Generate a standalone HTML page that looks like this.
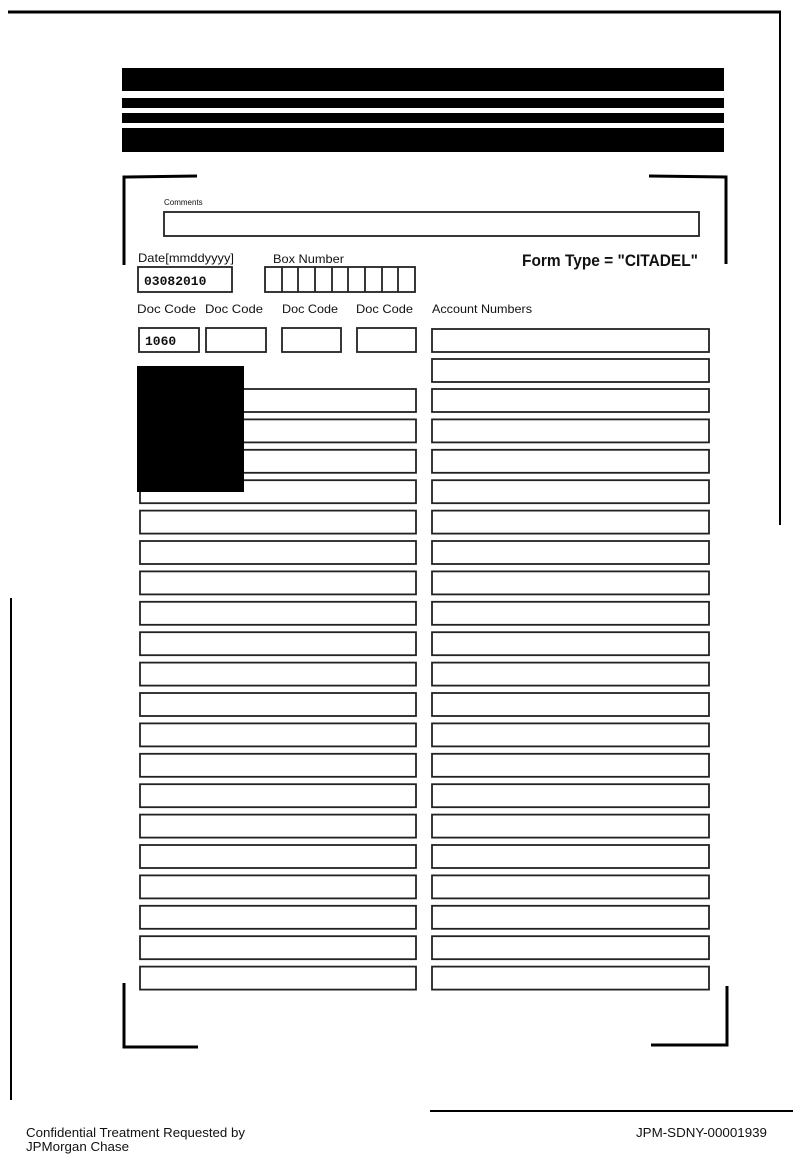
<!DOCTYPE html>
<html><head><meta charset="utf-8"><style>
html,body{margin:0;padding:0;background:#fff;}
svg{display:block;}
text{font-family:"Liberation Sans",Arial,sans-serif;fill:#111;}
.m{font-family:"Liberation Mono",monospace;font-weight:bold;}
</style></head><body>
<svg width="793" height="1156" viewBox="0 0 793 1156" xmlns="http://www.w3.org/2000/svg">
<line x1="8" y1="12" x2="781" y2="12" stroke="#000" stroke-width="3"/>
<line x1="780" y1="11" x2="780" y2="525" stroke="#000" stroke-width="2"/>
<line x1="11" y1="598" x2="11" y2="1100" stroke="#000" stroke-width="2"/>
<line x1="430" y1="1111" x2="793" y2="1111" stroke="#000" stroke-width="2"/>
<rect x="122" y="68" width="602" height="23" fill="#000"/>
<rect x="122" y="98" width="602" height="10" fill="#000"/>
<rect x="122" y="113" width="602" height="10" fill="#000"/>
<rect x="122" y="128" width="602" height="24" fill="#000"/>
<g stroke="#000" stroke-width="3" fill="none">
<polyline points="124,265 124,177 197,176"/>
<polyline points="649,176 726,177 726,264"/>
<polyline points="124,983 124,1047 198,1047"/>
<polyline points="651,1045 727,1045 727,986"/>
</g>
<text x="164" y="205" font-size="8">Comments</text>
<g fill="none" stroke="#222" stroke-width="1.8">
<rect x="164" y="212" width="535" height="24"/>
<rect x="138" y="267" width="94" height="25"/>
<rect x="265" y="267" width="150" height="25"/>
<line x1="282" y1="267" x2="282" y2="292"/><line x1="298" y1="267" x2="298" y2="292"/>
<line x1="315" y1="267" x2="315" y2="292"/><line x1="332" y1="267" x2="332" y2="292"/>
<line x1="348" y1="267" x2="348" y2="292"/><line x1="365" y1="267" x2="365" y2="292"/>
<line x1="382" y1="267" x2="382" y2="292"/><line x1="398" y1="267" x2="398" y2="292"/>
<rect x="139" y="328" width="60" height="24"/>
<rect x="206" y="328" width="60" height="24"/>
<rect x="282" y="328" width="59" height="24"/>
<rect x="357" y="328" width="59" height="24"/>
</g>
<text x="138" y="262" font-size="12" textLength="96" lengthAdjust="spacingAndGlyphs">Date[mmddyyyy]</text>
<text x="273" y="263" font-size="12" textLength="71" lengthAdjust="spacingAndGlyphs">Box Number</text>
<text x="522" y="266" font-size="17" font-weight="bold" textLength="176" lengthAdjust="spacingAndGlyphs">Form Type = "CITADEL"</text>
<text class="m" x="144" y="285" font-size="13">03082010</text>
<text x="137" y="313" font-size="12" textLength="59" lengthAdjust="spacingAndGlyphs">Doc Code</text>
<text x="205" y="313" font-size="12" textLength="58" lengthAdjust="spacingAndGlyphs">Doc Code</text>
<text x="282" y="313" font-size="12" textLength="56" lengthAdjust="spacingAndGlyphs">Doc Code</text>
<text x="356" y="313" font-size="12" textLength="57" lengthAdjust="spacingAndGlyphs">Doc Code</text>
<text x="432" y="313" font-size="12" textLength="100" lengthAdjust="spacingAndGlyphs">Account Numbers</text>
<text class="m" x="145" y="345" font-size="13">1060</text>
<g fill="none" stroke="#222" stroke-width="1.8">
<rect x="432" y="329" width="277" height="23"/>
<rect x="432" y="359" width="277" height="23"/>
<rect x="140" y="389" width="276" height="23"/><rect x="432" y="389" width="277" height="23"/>
<rect x="140" y="419.4" width="276" height="23"/><rect x="432" y="419.4" width="277" height="23"/>
<rect x="140" y="449.8" width="276" height="23"/><rect x="432" y="449.8" width="277" height="23"/>
<rect x="140" y="480.2" width="276" height="23"/><rect x="432" y="480.2" width="277" height="23"/>
<rect x="140" y="510.6" width="276" height="23"/><rect x="432" y="510.6" width="277" height="23"/>
<rect x="140" y="541" width="276" height="23"/><rect x="432" y="541" width="277" height="23"/>
<rect x="140" y="571.4" width="276" height="23"/><rect x="432" y="571.4" width="277" height="23"/>
<rect x="140" y="601.8" width="276" height="23"/><rect x="432" y="601.8" width="277" height="23"/>
<rect x="140" y="632.2" width="276" height="23"/><rect x="432" y="632.2" width="277" height="23"/>
<rect x="140" y="662.6" width="276" height="23"/><rect x="432" y="662.6" width="277" height="23"/>
<rect x="140" y="693" width="276" height="23"/><rect x="432" y="693" width="277" height="23"/>
<rect x="140" y="723.4" width="276" height="23"/><rect x="432" y="723.4" width="277" height="23"/>
<rect x="140" y="753.8" width="276" height="23"/><rect x="432" y="753.8" width="277" height="23"/>
<rect x="140" y="784.2" width="276" height="23"/><rect x="432" y="784.2" width="277" height="23"/>
<rect x="140" y="814.6" width="276" height="23"/><rect x="432" y="814.6" width="277" height="23"/>
<rect x="140" y="845" width="276" height="23"/><rect x="432" y="845" width="277" height="23"/>
<rect x="140" y="875.4" width="276" height="23"/><rect x="432" y="875.4" width="277" height="23"/>
<rect x="140" y="905.8" width="276" height="23"/><rect x="432" y="905.8" width="277" height="23"/>
<rect x="140" y="936.2" width="276" height="23"/><rect x="432" y="936.2" width="277" height="23"/>
<rect x="140" y="966.6" width="276" height="23"/><rect x="432" y="966.6" width="277" height="23"/>
</g>
<rect x="137" y="366" width="107" height="126" fill="#000"/>
<text x="26" y="1137" font-size="13" textLength="219" lengthAdjust="spacingAndGlyphs">Confidential Treatment Requested by</text>
<text x="26" y="1151" font-size="13" textLength="103" lengthAdjust="spacingAndGlyphs">JPMorgan Chase</text>
<text x="636" y="1137" font-size="13" textLength="131" lengthAdjust="spacingAndGlyphs">JPM-SDNY-00001939</text>
</svg>
</body></html>
